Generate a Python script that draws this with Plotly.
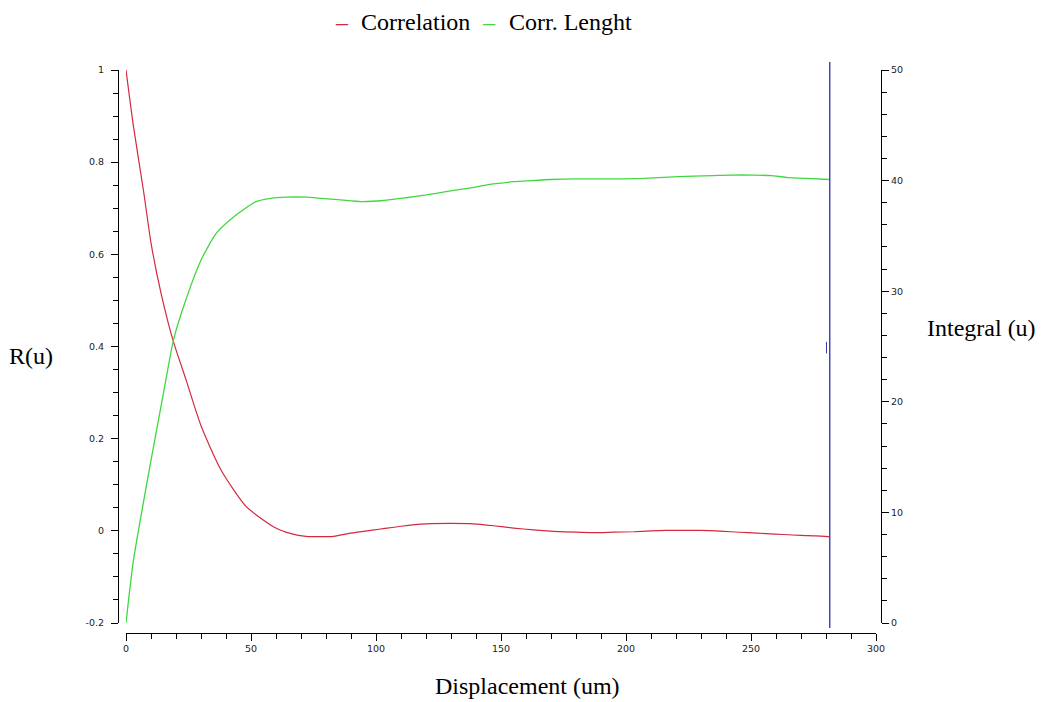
import plotly.graph_objects as go

# ---------------- data ----------------
disp_corr = [0, 3, 7, 10, 14, 19, 24, 30, 38, 48, 59, 66, 72, 83, 90, 95, 102, 110, 120, 130,
             139, 147, 155, 163, 171, 180, 187, 195, 203, 210, 216, 223, 230, 236, 242, 249,
             256, 263, 270, 276, 281.5]
correlation = [1.0, 0.877, 0.738, 0.625, 0.516, 0.41, 0.328, 0.228, 0.132, 0.053, 0.009, -0.006,
               -0.012, -0.012, -0.005, -0.001, 0.004, 0.010, 0.015, 0.016, 0.015, 0.011, 0.006,
               0.002, -0.001, -0.003, -0.004, -0.003, -0.002, 0.000, 0.001, 0.001, 0.001, 0.000,
               -0.002, -0.004, -0.006, -0.008, -0.010, -0.011, -0.013]

disp_len = [0, 3, 10, 15, 19, 23, 30, 36, 43, 52, 58, 64, 72, 78, 86, 94, 103, 112, 120, 128,
            138, 147, 155, 162, 170, 180, 190, 199, 207, 215, 227, 235, 242, 251, 258, 264, 272,
            281.5]
corr_length = [0, 5.7, 14.7, 20.8, 25.6, 28.6, 32.8, 35.2, 36.7, 38.1, 38.4, 38.5, 38.5, 38.4,
               38.25, 38.1, 38.2, 38.45, 38.7, 39.0, 39.35, 39.7, 39.9, 40.0, 40.1, 40.15, 40.15,
               40.15, 40.2, 40.3, 40.4, 40.45, 40.5, 40.5, 40.45, 40.3, 40.2, 40.1]

series_names = ["Correlation", "Corr. Lenght"]

cursor_x = 281.5
cursor_mark = [0.385, 0.41]

x_ticks = [0, 50, 100, 150, 200, 250, 300]
x_minor = list(range(0, 301, 10))
left_ticks = [-0.2, 0, 0.2, 0.4, 0.6, 0.8, 1]
left_labels = ["-0.2", "0", "0.2", "0.4", "0.6", "0.8", "1"]
left_minor = [round(-0.2 + 0.05 * i, 2) for i in range(25)]
right_ticks = [0, 10, 20, 30, 40, 50]
right_minor = list(range(0, 51, 2))

# ---------------- layout helpers ----------------
W, H = 1047, 702
ml, mr, mt, mb = 100, 150, 60, 60
pw, ph = W - ml - mr, H - mt - mb


def fx(p):
    return (p - ml) / pw


def fy(p):
    return (H - mb - p) / ph


RED = "#d42a3c"
GREEN = "#3fd83f"
BLUE = "#3c3cb0"
tickfont = dict(family="DejaVu Sans", size=9.5, color="#222")
serif = "Liberation Serif, Times New Roman, serif"
TSIZE = 24

fig = go.Figure()
fig.add_trace(go.Scatter(x=disp_corr, y=correlation, name=series_names[0], mode="lines",
                         line=dict(color=RED, width=1.2, shape="spline", smoothing=0.6),
                         yaxis="y"))
fig.add_trace(go.Scatter(x=disp_len, y=corr_length, name=series_names[1], mode="lines",
                         line=dict(color=GREEN, width=1.3, shape="spline", smoothing=0.6),
                         yaxis="y2"))

fig.add_shape(type="line", xref="x", yref="paper", x0=cursor_x, x1=cursor_x,
              y0=fy(628), y1=fy(62), line=dict(color=BLUE, width=1.4))
fig.add_shape(type="line", xref="x", yref="y", x0=cursor_x - 1.3, x1=cursor_x - 1.3,
              y0=cursor_mark[0], y1=cursor_mark[1], line=dict(color=BLUE, width=1))


def label(text, px, py, color="black"):
    return dict(xref="paper", yref="paper", x=fx(px), y=fy(py), showarrow=False,
                xanchor="center", yanchor="middle", text=text,
                font=dict(family=serif, size=TSIZE, color=color))


fig.update_layout(
    width=W, height=H,
    margin=dict(l=ml, r=mr, t=mt, b=mb),
    paper_bgcolor="white", plot_bgcolor="white",
    showlegend=False,
    xaxis=dict(domain=[fx(126), fx(876)], range=[0, 300], anchor="free", position=fy(633),
               showgrid=False, zeroline=False, showline=True, linecolor="black", linewidth=1,
               ticks="outside", ticklen=7, tickcolor="black", tickvals=x_ticks,
               tickfont=tickfont,
               minor=dict(tickmode="array", tickvals=x_minor, ticks="outside", ticklen=5,
                          tickcolor="black")),
    yaxis=dict(domain=[fy(623), fy(70)], range=[-0.2, 1], anchor="free", position=fx(118),
               showgrid=False, zeroline=False, showline=True, linecolor="black", linewidth=1,
               ticks="outside", ticklen=7, tickcolor="black", tickvals=left_ticks,
               ticktext=left_labels, tickfont=tickfont, ticklabelstandoff=5,
               minor=dict(tickmode="array", tickvals=left_minor, ticks="outside", ticklen=5,
                          tickcolor="black")),
    yaxis2=dict(range=[0, 50], overlaying="y", side="right", anchor="free", position=fx(881),
                showgrid=False, zeroline=False, showline=True, linecolor="black", linewidth=1,
                ticks="outside", ticklen=7, tickcolor="black", tickvals=right_ticks,
                tickfont=tickfont,
                minor=dict(tickmode="array", tickvals=right_minor, ticks="outside", ticklen=5,
                           tickcolor="black")),
    annotations=[
        label("–", 342, 22, RED),
        label(series_names[0], 415, 22),
        label("–", 489, 22, GREEN),
        label(series_names[1], 570, 22),
        label("R(u)", 31, 356),
        label("Integral (u)", 981, 328),
        label("Displacement (um)", 527, 686),
    ],
)

fig.write_html("out.html")
